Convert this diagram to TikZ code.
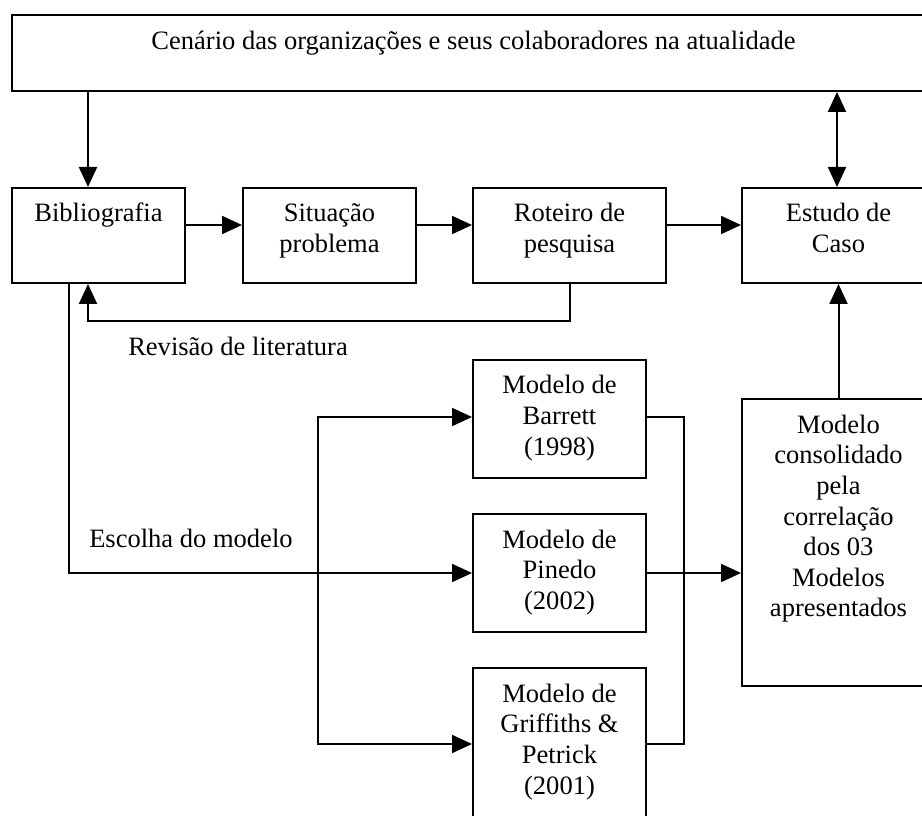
\documentclass[tikz,border=0pt]{standalone}
\usepackage{fontspec}
\setmainfont{Liberation Serif}
\usetikzlibrary{arrows.meta}
\begin{document}
\begin{tikzpicture}[x=0.75pt,y=-0.75pt,
  every node/.style={font=\fontsize{19.9pt}{23pt}\selectfont},
  box/.style 2 args={draw, line width=1.5pt, anchor=north west,
    minimum width=#1*0.75pt, minimum height=#2*0.75pt, inner sep=0pt},
  txt/.style={anchor=base, align=center, inner sep=0pt, yshift=-26.25pt-(#1-1)*23pt},
  lbl/.style={anchor=base west, inner sep=0pt},
  ln/.style={line width=1.5pt},
  tip/.tip={Triangle[length=15pt,width=13.5pt]},
  arr/.style={ln, -tip},
  darr/.style={ln, tip-tip}]
\useasboundingbox (0,0) rectangle (922,816);
\clip (0,0) rectangle (922,816);

% boxes
\node[box={923}{76}]  (top) at (11,14) {};
\node[box={173}{95}]  (bib) at (11,187) {};
\node[box={173}{95}]  (sit) at (242,187) {};
\node[box={193}{95}]  (rot) at (472,187) {};
\node[box={193}{95}]  (est) at (741,187) {};
\node[box={173}{118}] (bar) at (472,359) {};
\node[box={173}{118}] (pin) at (472,513) {};
\node[box={173}{170}] (gri) at (472,667) {};
\node[box={193}{287}] (con) at (741,398) {};

% texts
\node[txt=1, yshift=-0.75pt] (ttop) at (top.north) {Cenário das organizações e seus colaboradores na atualidade};
\node[txt=1] (tbib) at (bib.north) {Bibliografia};
\node[txt=2] (tsit) at (sit.north) {Situação\\problema};
\node[txt=2] (trot) at (rot.north) {Roteiro de\\pesquisa};
\node[txt=2] (test) at (est.north) {Estudo de\\Caso};
\node[txt=3] (tbar) at (bar.north) {Modelo de\\Barrett\\(1998)};
\node[txt=3] (tpin) at (pin.north) {Modelo de\\Pinedo\\(2002)};
\node[txt=4] (tgri) at (gri.north) {Modelo de\\Griffiths \&\\Petrick\\(2001)};
\node[txt=7] (tcon) at (con.north) {Modelo\\consolidado\\pela\\correlação\\dos 03\\Modelos\\apresentados};
\node[lbl] (lrev) at (128,356) {Revisão de literatura};
\node[lbl] (lesc) at (89,548) {Escolha do modelo};

% helper coordinates
\coordinate (cA) at (88,0);
\coordinate (cB) at (69,0);
\coordinate (cC) at (318,0);
\coordinate (cD) at (684,0);
\coordinate (cE) at (837,0);
\coordinate (rowA) at (0,225);
\coordinate (rowL) at (0,321);
\coordinate (rowB) at (0,417);
\coordinate (rowG) at (0,744);

% connectors
\draw[arr] (top.south -| cA) -- (bib.north -| cA);
\draw[arr] (bib.east |- rowA) -- (sit.west |- rowA);
\draw[arr] (sit.east |- rowA) -- (rot.west |- rowA);
\draw[arr] (rot.east |- rowA) -- (est.west |- rowA);
\draw[darr] (top.south -| cE) -- (est.north -| cE);
\draw[arr] (rot.south) -- (rot.south |- rowL) -- (cA |- rowL) -- (bib.south -| cA);
\draw[arr] (bib.south -| cB) |- (pin.west);
\draw[arr] (cC |- pin.west) |- (bar.west |- rowB);
\draw[arr] (cC |- pin.west) |- (gri.west |- rowG);
\draw[ln] (bar.east |- rowB) -| (cD |- rowG) -- (gri.east |- rowG);
\draw[arr] (pin.east) -- (con.west |- pin.east);
\draw[arr] (con.north) -- (est.south);
\end{tikzpicture}
\end{document}
